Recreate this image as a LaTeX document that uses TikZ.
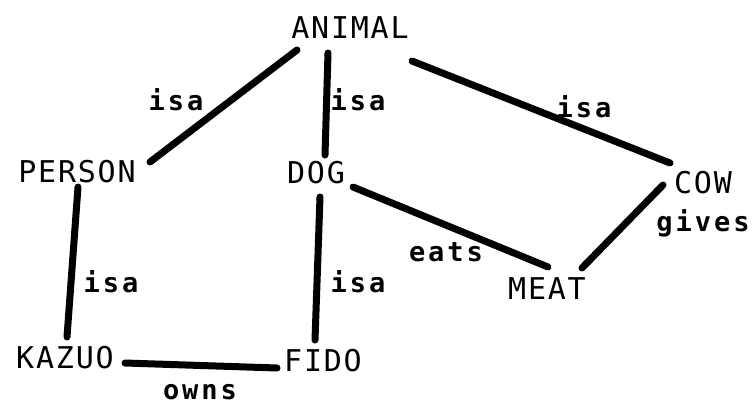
\documentclass[tikz,border=0pt]{standalone}
\usepackage{fontspec}
\newfontfamily\netfont[LetterSpace=6]{DejaVu Sans Mono}
\newfontfamily\relfont[LetterSpace=11]{DejaVu Sans Mono Bold}
\begin{document}
\begin{tikzpicture}[x=1pt,y=-1pt,
  concept/.style={inner sep=0pt,anchor=base,font=\netfont\fontsize{30}{32}\selectfont},
  relation/.style={inner sep=0pt,anchor=base,font=\relfont\fontsize{27}{30}\selectfont},
  link/.style={line width=7pt,line cap=round}]
\useasboundingbox (0,0) rectangle (755,407);

% concepts of the semantic network
\node[concept] (animal) at (350,38)  {ANIMAL};
\node[concept] (person) at (77,182)  {PERSON};
\node[concept] (dog)    at (316,183) {DOG};
\node[concept] (cow)    at (703,193) {COW};
\node[concept] (meat)   at (547,299) {MEAT};
\node[concept] (kazuo)  at (65,368)  {KAZUO};
\node[concept] (fido)   at (323,371) {FIDO};

% relation labels
\node[relation] (isa1)  at (176,110) {isa};
\node[relation] (isa2)  at (358,110) {isa};
\node[relation] (isa3)  at (584,117) {isa};
\node[relation] (isa4)  at (111,292) {isa};
\node[relation] (isa5)  at (358,292) {isa};
\node[relation] (eats)  at (446,261) {eats};
\node[relation] (gives) at (703,231) {gives};
\node[relation] (owns)  at (200,399) {owns};

% links
\draw[link] ([shift={(-53,12)}]animal.base) -- ([shift={(73,-20)}]person.base);
\draw[link] ([shift={(-22,15)}]animal.base) -- ([shift={(9,-28)}]dog.base);
\draw[link] ([shift={(62,23)}]animal.base)  -- ([shift={(-33,-30)}]cow.base);
\draw[link] ([shift={(37,4)}]dog.base)      -- ([shift={(1,-32)}]meat.base);
\draw[link] ([shift={(-40,-8)}]cow.base)    -- ([shift={(35,-31)}]meat.base);
\draw[link] ([shift={(1,5)}]person.base)    -- ([shift={(2,-31)}]kazuo.base);
\draw[link] ([shift={(4,14)}]dog.base)      -- ([shift={(-8,-31)}]fido.base);
\draw[link] ([shift={(60,-5)}]kazuo.base)   -- ([shift={(-46,-3)}]fido.base);
\end{tikzpicture}
\end{document}
